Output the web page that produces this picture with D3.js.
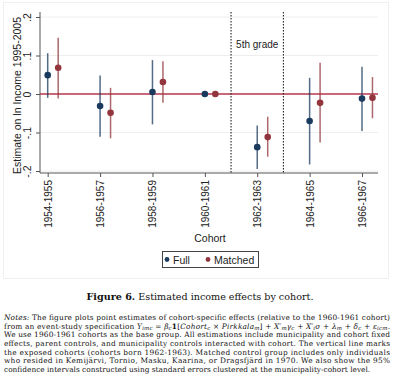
<!DOCTYPE html>
<html>
<head>
<meta charset="utf-8">
<script src="https://cdn.jsdelivr.net/npm/d3@7"></script>
<style>
  body { margin: 0; background: #fff; }
  svg { display: block; }
</style>
</head>
<body>
<div id="graph"></div>
<script>
var w = 400
var h = 390

// data
var cohorts = ["1954-1955", "1956-1957", "1958-1959", "1960-1961", "1962-1963", "1964-1965", "1966-1967"]
var fullEst = [0.049, -0.031, 0.005, 0, -0.138, -0.070, -0.012]
var fullLo = [-0.010, -0.111, -0.079, null, -0.195, -0.183, -0.096]
var fullHi = [0.106, 0.048, 0.088, null, -0.082, 0.042, 0.071]
var matchEst = [0.068, -0.049, 0.031, 0, -0.112, -0.023, -0.010]
var matchLo = [-0.012, -0.115, -0.023, null, -0.163, -0.126, -0.063]
var matchHi = [0.146, 0.016, 0.085, null, -0.059, 0.081, 0.044]
var yTicks = [-0.2, -0.1, 0, 0.1, 0.2]
var yTickLabels = ["-.2", "-.1", "0", ".1", ".2"]
var exposedCohort = "1962-1963"
var seriesNames = ["Full", "Matched"]

var notesLines = [
  "The figure plots point estimates of cohort-specific effects (relative to the 1960-1961 cohort)",
  "EQ",
  "We use 1960-1961 cohorts as the base group. All estimations include municipality and cohort fixed",
  "effects, parent controls, and municipality controls interacted with cohort. The vertical line marks",
  "the exposed cohorts (cohorts born 1962-1963). Matched control group includes only individuals",
  "who resided in Kemijärvi, Tornio, Masku, Kaarina, or Dragsfjärd in 1970. We also show the 95%",
  "confidence intervals constructed using standard errors clustered at the municipality-cohort level."
]

var navy = "#1a3a5e"
var maroon = "#92353d"
var sans = "'Liberation Sans', Arial, sans-serif"
var serif = "'DejaVu Serif', 'Liberation Serif', serif"

var svg = d3.select("#graph").append("svg")
    .attr("width", w)
    .attr("height", h)

// faint frame round the graph region
svg.append("rect")
    .attr("x", 3.5).attr("y", 2.5)
    .attr("width", 385).attr("height", 276)
    .attr("fill", "none")
    .attr("stroke", "#f0f0f0")

var plotL = 40, plotR = 378, plotT = 12, plotB = 173

var x = d3.scalePoint()
    .domain(cohorts)
    .range([47.7, 362])

var y = d3.scaleLinear()
    .domain([-0.2, 0.2])
    .range([171, 17])

var off = x.step() * 0.2

// grid lines
svg.append("g").selectAll("line")
    .data(yTicks.filter(function (d) { return d != 0 }))
    .enter().append("line")
    .attr("x1", plotL).attr("x2", plotR)
    .attr("y1", function (d) { return y(d) })
    .attr("y2", function (d) { return y(d) })
    .attr("stroke", "#eeeeee")
    .attr("stroke-width", 1)

// y axis
var yAxis = svg.append("g")
    .attr("transform", "translate(" + plotL + ",0)")
    .call(d3.axisLeft(y).tickValues(yTicks).tickSize(4).tickFormat(function (d, i) { return yTickLabels[i] }))
yAxis.select(".domain").remove()
yAxis.append("line")
    .attr("x1", 0).attr("x2", 0)
    .attr("y1", plotT).attr("y2", plotB)
    .attr("stroke", "#555")
yAxis.selectAll(".tick line").attr("stroke", "#555")
yAxis.selectAll(".tick text")
    .attr("x", 0).attr("dy", 0)
    .attr("transform", "translate(-9,0) rotate(-90)")
    .attr("text-anchor", "middle")
    .style("font-family", sans)
    .style("font-size", "10.5px")
    .attr("fill", "#222")

// x axis
var xAxis = svg.append("g")
    .attr("transform", "translate(0," + plotB + ")")
    .call(d3.axisBottom(x).tickSize(4))
xAxis.select(".domain").remove()
xAxis.append("line")
    .attr("x1", plotL).attr("x2", plotR)
    .attr("y1", 0).attr("y2", 0)
    .attr("stroke", "#555")
xAxis.selectAll(".tick line").attr("stroke", "#555")
xAxis.selectAll(".tick text")
    .attr("y", 0).attr("dy", 0)
    .attr("transform", "translate(3.5,7) rotate(-90)")
    .attr("text-anchor", "end")
    .style("font-family", sans)
    .style("font-size", "10px")
    .attr("fill", "#222")

// axis titles
svg.append("text")
    .attr("transform", "translate(21," + ((plotT + plotB) / 2 + 3) + ") rotate(-90)")
    .attr("text-anchor", "middle")
    .style("font-family", sans)
    .style("font-size", "10.5px")
    .attr("fill", "#222")
    .text("Estimate on ln Income 1995-2005")

svg.append("text")
    .attr("x", 210).attr("y", 242)
    .attr("text-anchor", "middle")
    .style("font-family", sans)
    .style("font-size", "10.5px")
    .attr("fill", "#222")
    .text("Cohort")

// zero line
svg.append("line")
    .attr("x1", plotL).attr("x2", plotR)
    .attr("y1", y(0)).attr("y2", y(0))
    .attr("stroke", "#b8344e")
    .attr("stroke-width", 1.3)

// dotted lines either side of the exposed cohort
var ix = cohorts.indexOf(exposedCohort)
var borders = [x(cohorts[ix]) - x.step() / 2, x(cohorts[ix]) + x.step() / 2]
svg.append("g").selectAll("line")
    .data(borders)
    .enter().append("line")
    .attr("x1", function (d) { return d }).attr("x2", function (d) { return d })
    .attr("y1", plotT).attr("y2", plotB)
    .attr("stroke", "#222")
    .attr("stroke-width", 1.1)
    .attr("stroke-dasharray", "1.5,1.5")

svg.append("text")
    .attr("x", (borders[0] + borders[1]) / 2)
    .attr("y", 48)
    .attr("text-anchor", "middle")
    .style("font-family", sans)
    .style("font-size", "10px")
    .attr("fill", "#222")
    .text("5th grade")

// draw one series: CI bars then points
function drawSeries(est, lo, hi, dx, col) {
    var g = svg.append("g")
    g.selectAll("line")
        .data(cohorts.filter(function (c, i) { return lo[i] != null }))
        .enter().append("line")
        .attr("x1", function (c) { return x(c) + dx })
        .attr("x2", function (c) { return x(c) + dx })
        .attr("y1", function (c) { return y(hi[cohorts.indexOf(c)]) })
        .attr("y2", function (c) { return y(lo[cohorts.indexOf(c)]) })
        .attr("stroke", col)
        .attr("stroke-opacity", 0.75)
        .attr("stroke-width", 1.5)
    g.selectAll("circle")
        .data(cohorts)
        .enter().append("circle")
        .attr("cx", function (c) { return x(c) + dx })
        .attr("cy", function (c, i) { return y(est[i]) })
        .attr("r", 3.3)
        .attr("fill", col)
}
drawSeries(fullEst, fullLo, fullHi, 0, navy)
drawSeries(matchEst, matchLo, matchHi, off, maroon)

// legend
var legend = svg.append("g")
legend.append("rect")
    .attr("x", 162.5).attr("y", 251.5)
    .attr("width", 96).attr("height", 16)
    .attr("fill", "#fff")
    .attr("stroke", "#444")
var legX = [167, 208]
var legCol = [navy, maroon]
seriesNames.forEach(function (s, i) {
    legend.append("circle")
        .attr("cx", legX[i]).attr("cy", 259.5)
        .attr("r", 2.4)
        .attr("fill", legCol[i])
    legend.append("text")
        .attr("x", legX[i] + 6).attr("y", 263.5)
        .style("font-family", sans)
        .style("font-size", "10.5px")
        .attr("fill", "#222")
        .text(s)
})

// caption
var cap = svg.append("text")
    .attr("x", 200).attr("y", 300)
    .attr("text-anchor", "middle")
    .style("font-family", serif)
    .style("font-size", "9.6px")
    .attr("fill", "#111")
cap.append("tspan").style("font-weight", "bold").text("Figure 6.")
cap.append("tspan").text("  Estimated income effects by cohort.")

// notes, justified across the page width
var notes = svg.append("g")
    .style("font-family", serif)
    .style("font-size", "7.4px")
    .attr("fill", "#111")
notesLines.forEach(function (line, i) {
    var t = notes.append("text")
        .attr("x", 4)
        .attr("y", 320 + i * 8.65)
    if (i == 0) {
        t.append("tspan").style("font-style", "italic").text("Notes:")
        t.append("tspan").text(" " + line)
    } else if (line == "EQ") {
        t.append("tspan").text("from an event-study specification ")
        t.append("tspan").style("font-style", "italic").text("Y")
        t.append("tspan").style("font-style", "italic").style("font-size", "5.5px").attr("dy", 1.5).text("imc")
        t.append("tspan").attr("dy", -1.5).text(" = ")
        t.append("tspan").style("font-style", "italic").text("β")
        t.append("tspan").style("font-style", "italic").style("font-size", "5.5px").attr("dy", 1.5).text("c")
        t.append("tspan").attr("dy", -1.5).style("font-weight", "bold").text("1")
        t.append("tspan").text("[")
        t.append("tspan").style("font-style", "italic").text("Cohort")
        t.append("tspan").style("font-style", "italic").style("font-size", "5.5px").attr("dy", 1.5).text("c")
        t.append("tspan").attr("dy", -1.5).text(" × ")
        t.append("tspan").style("font-style", "italic").text("Pirkkala")
        t.append("tspan").style("font-style", "italic").style("font-size", "5.5px").attr("dy", 1.5).text("m")
        t.append("tspan").attr("dy", -1.5).text("] + ")
        t.append("tspan").style("font-style", "italic").text("X′")
        t.append("tspan").style("font-style", "italic").style("font-size", "5.5px").attr("dy", 1.5).text("m")
        t.append("tspan").attr("dy", -1.5).style("font-style", "italic").text("γ")
        t.append("tspan").style("font-style", "italic").style("font-size", "5.5px").attr("dy", 1.5).text("c")
        t.append("tspan").attr("dy", -1.5).text(" + ")
        t.append("tspan").style("font-style", "italic").text("X′")
        t.append("tspan").style("font-style", "italic").style("font-size", "5.5px").attr("dy", 1.5).text("i")
        t.append("tspan").attr("dy", -1.5).style("font-style", "italic").text("σ")
        t.append("tspan").text(" + ")
        t.append("tspan").style("font-style", "italic").text("λ")
        t.append("tspan").style("font-style", "italic").style("font-size", "5.5px").attr("dy", 1.5).text("m")
        t.append("tspan").attr("dy", -1.5).text(" + ")
        t.append("tspan").style("font-style", "italic").text("δ")
        t.append("tspan").style("font-style", "italic").style("font-size", "5.5px").attr("dy", 1.5).text("c")
        t.append("tspan").attr("dy", -1.5).text(" + ")
        t.append("tspan").style("font-style", "italic").text("ε")
        t.append("tspan").style("font-style", "italic").style("font-size", "5.5px").attr("dy", 1.5).text("icm")
        t.append("tspan").attr("dy", -1.5).text(".")
    } else {
        t.text(line)
    }
    if (i < notesLines.length - 1) {
        t.attr("textLength", 386).attr("lengthAdjust", "spacing")
    }
})
</script>
</body>
</html>
